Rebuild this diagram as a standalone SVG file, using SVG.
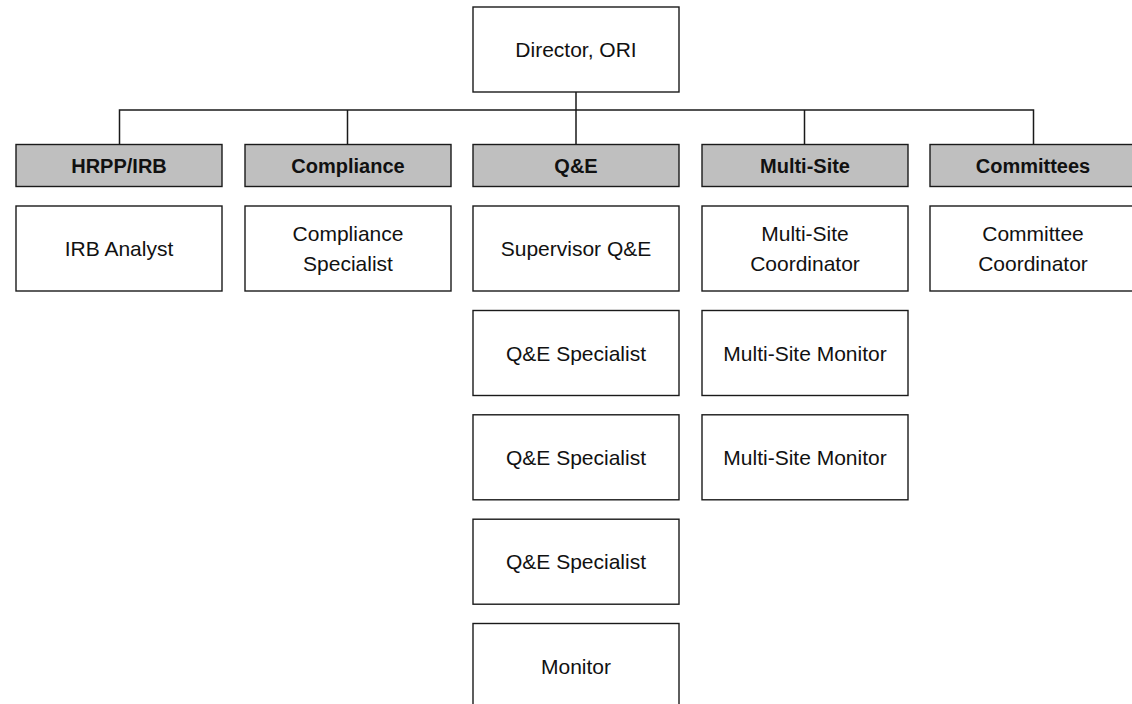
<svg xmlns="http://www.w3.org/2000/svg" width="1132" height="704" viewBox="0 0 1132 704">
<style>
.box{fill:#fff;stroke:#1a1a1a;stroke-width:1.4}
.hdr{fill:#bfbfbf;stroke:#1a1a1a;stroke-width:1.4}
.t{font-family:"Liberation Sans",Arial,sans-serif;font-size:21px;fill:#111;text-anchor:middle;dominant-baseline:central}
.b{font-weight:bold;font-size:20px}
.c{fill:none;stroke:#1a1a1a;stroke-width:1.5}
</style>
<rect width="1132" height="704" fill="#fff"/>
<g id="connectors">
<path class="c" d="M576 92V144.5M119.5 144.5V110H1033.5V144.5M347.5 110V144.5M804.5 110V144.5"/>
</g>
<g id="director"><rect class="box" x="473" y="7" width="206" height="85"/><text class="t" x="576" y="49.5">Director, ORI</text></g>
<g id="hrpp"><rect class="hdr" x="16" y="144.5" width="206" height="42"/><text class="t b" x="119" y="165.5">HRPP/IRB</text></g>
<g id="compliance"><rect class="hdr" x="245" y="144.5" width="206" height="42"/><text class="t b" x="348" y="165.5">Compliance</text></g>
<g id="qe"><rect class="hdr" x="473" y="144.5" width="206" height="42"/><text class="t b" x="576" y="165.5">Q&amp;E</text></g>
<g id="multisite"><rect class="hdr" x="702" y="144.5" width="206" height="42"/><text class="t b" x="805" y="165.5">Multi-Site</text></g>
<g id="committees"><rect class="hdr" x="930" y="144.5" width="206" height="42"/><text class="t b" x="1033" y="165.5">Committees</text></g>
<g id="irb-analyst"><rect class="box" x="16" y="206" width="206" height="85"/><text class="t" x="119" y="248.5">IRB Analyst</text></g>
<g id="compliance-specialist"><rect class="box" x="245" y="206" width="206" height="85"/><text class="t" x="348" y="233.5">Compliance</text><text class="t" x="348" y="263.5">Specialist</text></g>
<g id="supervisor-qe"><rect class="box" x="473" y="206" width="206" height="85"/><text class="t" x="576" y="248.5">Supervisor Q&amp;E</text></g>
<g id="qe-specialist-1"><rect class="box" x="473" y="310.5" width="206" height="85"/><text class="t" x="576" y="353">Q&amp;E Specialist</text></g>
<g id="qe-specialist-2"><rect class="box" x="473" y="414.8" width="206" height="85"/><text class="t" x="576" y="457.3">Q&amp;E Specialist</text></g>
<g id="qe-specialist-3"><rect class="box" x="473" y="519.2" width="206" height="85"/><text class="t" x="576" y="561.7">Q&amp;E Specialist</text></g>
<g id="monitor"><rect class="box" x="473" y="623.5" width="206" height="85"/><text class="t" x="576" y="666">Monitor</text></g>
<g id="multisite-coordinator"><rect class="box" x="702" y="206" width="206" height="85"/><text class="t" x="805" y="233.5">Multi-Site</text><text class="t" x="805" y="263.5">Coordinator</text></g>
<g id="multisite-monitor-1"><rect class="box" x="702" y="310.5" width="206" height="85"/><text class="t" x="805" y="353">Multi-Site Monitor</text></g>
<g id="multisite-monitor-2"><rect class="box" x="702" y="414.8" width="206" height="85"/><text class="t" x="805" y="457.3">Multi-Site Monitor</text></g>
<g id="committee-coordinator"><rect class="box" x="930" y="206" width="206" height="85"/><text class="t" x="1033" y="233.5">Committee</text><text class="t" x="1033" y="263.5">Coordinator</text></g>
</svg>
